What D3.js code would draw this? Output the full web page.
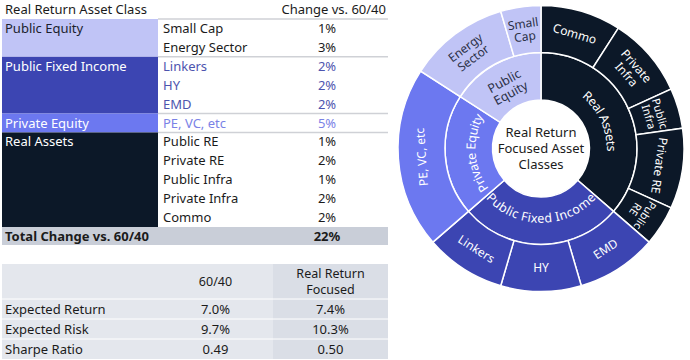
<!DOCTYPE html>
<html>
<head>
<meta charset="utf-8">
<script src="https://cdn.jsdelivr.net/npm/d3@7"></script>
<style>
  body { margin: 0; background: #fff; }
  svg { display: block; font-family: 'Noto Sans', sans-serif; }
</style>
</head>
<body>
<svg id="chart" width="690" height="360"></svg>
<script>
// Data
const assetGroups = ['Public Equity', 'Public Fixed Income', 'Private Equity', 'Real Assets']
const subClasses = ['Small Cap', 'Energy Sector', 'Linkers', 'HY', 'EMD', 'PE, VC, etc', 'Public RE', 'Private RE', 'Public Infra', 'Private Infra', 'Commo']
const subGroup = [0, 0, 1, 1, 1, 2, 3, 3, 3, 3, 3]
const changeLabels = ['1%', '3%', '2%', '2%', '2%', '5%', '1%', '2%', '1%', '2%', '2%']
const totalLabel = '22%'
// slice sizes measured from the sunburst angles (sum = 22)
const sunburstWeights = [1, 2.5, 2, 2, 2, 4.5, 1, 2, 1, 2, 2]
const ringLabels = ['Small\nCap', 'Energy\nSector', 'Linkers', 'HY', 'EMD', 'PE, VC, etc', 'Public\nRE', 'Private RE', 'Public\nInfra', 'Private\nInfra', 'Commo']
const groupRingLabels = ['Public\nEquity', 'Public Fixed Income', 'Private Equity', 'Real Assets']
const sunburstOrder = [3, 1, 2, 0]
const centerLabel = ['Real Return', 'Focused Asset', 'Classes']

const statNames = ['Expected Return', 'Expected Risk', 'Sharpe Ratio']
const portfolios = ['60/40', 'Real Return\nFocused']
const base6040 = ['7.0%', '9.7%', '0.49']
const realReturn = ['7.4%', '10.3%', '0.50']

const groupColors = ['#c0c4f6', '#3c45b2', '#6c78f0', '#0c1828']
const groupTextColors = ['#1b1f2e', '#ffffff', '#ffffff', '#ffffff']
const subTextColors = ['#1b1b1b', '#4d54ae', '#7a82e6', '#1b1b1b']
const ringTextColors = ['#2b3046', '#ffffff', '#ffffff', '#ffffff']

const svg = d3.select('#chart')

// ---------- Top table ----------
const tableLeft = 2
const tableRight = 388
const groupColRight = 158
const subX = 163
const valueX = 327
const fs = 13

const rowY = d3.scaleLinear().domain([0, subClasses.length]).range([19, 227])

svg.append('text')
  .attr('x', 5).attr('y', 14)
  .style('font-size', fs + 'px').attr('fill', '#1b1b1b')
  .text('Real Return Asset Class')
svg.append('text')
  .attr('x', 386).attr('y', 14)
  .attr('text-anchor', 'end')
  .style('font-size', fs + 'px').attr('fill', '#1b1b1b')
  .text('Change vs. 60/40')

const groupSpans = assetGroups.map((name, g) => {
  const idx = subGroup.map((s, i) => s === g ? i : -1).filter(i => i >= 0)
  return { name, g, first: idx[0], last: idx[idx.length - 1] }
})

svg.append('g').selectAll('rect')
  .data(groupSpans)
  .join('rect')
  .attr('x', tableLeft)
  .attr('y', d => rowY(d.first))
  .attr('width', groupColRight - tableLeft)
  .attr('height', d => rowY(d.last + 1) - rowY(d.first))
  .attr('fill', d => groupColors[d.g])

svg.append('g').selectAll('text')
  .data(groupSpans)
  .join('text')
  .attr('x', 5)
  .attr('y', d => rowY(d.first) + 14)
  .style('font-size', fs + 'px')
  .attr('fill', d => groupTextColors[d.g])
  .text(d => d.name)

// separators between groups
const sepRows = [0].concat(groupSpans.slice(0, -1).map(d => d.last + 1))
svg.append('g').selectAll('line')
  .data(sepRows)
  .join('line')
  .attr('x1', groupColRight).attr('x2', tableRight)
  .attr('y1', d => rowY(d)).attr('y2', d => rowY(d))
  .attr('stroke', '#cfd1d6').attr('stroke-width', 1.5)

svg.append('g').selectAll('text')
  .data(subClasses)
  .join('text')
  .attr('x', subX)
  .attr('y', (d, i) => rowY(i) + 14)
  .style('font-size', fs + 'px')
  .attr('fill', (d, i) => subTextColors[subGroup[i]])
  .text(d => d)

svg.append('g').selectAll('text')
  .data(changeLabels)
  .join('text')
  .attr('x', valueX)
  .attr('y', (d, i) => rowY(i) + 14)
  .attr('text-anchor', 'middle')
  .style('font-size', fs + 'px')
  .attr('fill', (d, i) => subTextColors[subGroup[i]])
  .text(d => d)

// total row
const totalTop = rowY(subClasses.length)
svg.append('rect')
  .attr('x', tableLeft).attr('y', totalTop)
  .attr('width', tableRight - tableLeft).attr('height', 18)
  .attr('fill', '#c9ced8')
svg.append('text')
  .attr('x', 5).attr('y', totalTop + 14)
  .style('font-size', fs + 'px').style('font-weight', 'bold').attr('fill', '#1b1b1b')
  .text('Total Change vs. 60/40')
svg.append('text')
  .attr('x', valueX).attr('y', totalTop + 14)
  .attr('text-anchor', 'middle')
  .style('font-size', fs + 'px').style('font-weight', 'bold').attr('fill', '#1b1b1b')
  .text(totalLabel)

// ---------- Bottom table ----------
const statTop = 264
const statHeaderH = 35
const statRowH = 20
const colEdges = [tableLeft, 158, 273, tableRight]
const colBg = ['#e4e7ed', '#e4e7ed', '#dadee6']
const statBottom = statTop + statHeaderH + statRowH * statNames.length

svg.append('g').selectAll('rect')
  .data(colBg)
  .join('rect')
  .attr('x', (d, i) => colEdges[i])
  .attr('y', statTop)
  .attr('width', (d, i) => colEdges[i + 1] - colEdges[i])
  .attr('height', statBottom - statTop)
  .attr('fill', d => d)

const statRowY = d3.scaleLinear().domain([0, statNames.length]).range([statTop + statHeaderH, statBottom])

svg.append('g').selectAll('line')
  .data(d3.range(statNames.length))
  .join('line')
  .attr('x1', tableLeft).attr('x2', tableRight)
  .attr('y1', d => statRowY(d)).attr('y2', d => statRowY(d))
  .attr('stroke', '#ffffff').attr('stroke-width', 1)

const colCenter = i => (colEdges[i] + colEdges[i + 1]) / 2
portfolios.forEach((p, i) => {
  const lines = p.split('\n')
  const t = svg.append('text')
    .attr('text-anchor', 'middle')
    .style('font-size', '12.5px').attr('fill', '#1b1b1b')
  lines.forEach((l, k) => {
    t.append('tspan')
      .attr('x', colCenter(i + 1))
      .attr('y', statTop + statHeaderH / 2 + 4.5 + (k - (lines.length - 1) / 2) * 15.5)
      .text(l)
  })
})

svg.append('g').selectAll('text')
  .data(statNames)
  .join('text')
  .attr('x', 5)
  .attr('y', (d, i) => statRowY(i) + 14.5)
  .style('font-size', fs + 'px').attr('fill', '#1b1b1b')
  .text(d => d)

;[base6040, realReturn].forEach((vals, c) => {
  svg.append('g').selectAll('text')
    .data(vals)
    .join('text')
    .attr('x', colCenter(c + 1))
    .attr('y', (d, i) => statRowY(i) + 14.5)
    .attr('text-anchor', 'middle')
    .style('font-size', fs + 'px').attr('fill', '#1b1b1b')
    .text(d => d)
})

// ---------- Sunburst ----------
const cx = 541
const cy = 148.5

const tree = {
  children: sunburstOrder.map(g => ({
    name: assetGroups[g],
    g,
    children: subClasses
      .map((name, i) => ({ name, i, g: subGroup[i], value: sunburstWeights[i] }))
      .filter(d => d.g === g)
      .reverse()
  }))
}

const root = d3.hierarchy(tree).sum(d => d.children ? 0 : d.value)
d3.partition().size([2 * Math.PI, 3])(root)

const radius = d3.scaleLinear().domain([1, 2, 3]).range([48.5, 96, 143])

const arc = d3.arc()
  .startAngle(d => d.x0)
  .endAngle(d => d.x1)
  .innerRadius(d => radius(d.y0))
  .outerRadius(d => radius(d.y1))

const sun = svg.append('g').attr('transform', `translate(${cx},${cy})`)
const nodes = root.descendants().filter(d => d.depth > 0)

sun.append('g').selectAll('path')
  .data(nodes)
  .join('path')
  .attr('d', arc)
  .attr('fill', d => groupColors[d.data.g])
  .attr('stroke', '#ffffff')
  .attr('stroke-width', 1.5)

const deg = a => a * 180 / Math.PI
const isFlipped = d => {
  const m = deg((d.x0 + d.x1) / 2)
  return m > 130 && m < 250
}

// rotated labels (outer ring + two-line inner label)
const rotatedLabel = (d, text, r, size, lineH) => {
  const a = (d.x0 + d.x1) / 2
  const m = deg(a)
  const rot = isFlipped(d) ? m - 180 : m
  const lines = text.split('\n')
  const t = sun.append('text')
    .attr('transform', `translate(${r * Math.sin(a)},${-r * Math.cos(a)}) rotate(${rot})`)
    .attr('text-anchor', 'middle')
    .style('font-size', size + 'px')
    .attr('fill', ringTextColors[d.data.g])
  lines.forEach((l, k) => {
    t.append('tspan')
      .attr('x', 0)
      .attr('y', (k - (lines.length - 1) / 2) * lineH)
      .attr('dy', '0.35em')
      .text(l)
  })
}

nodes.filter(d => d.depth === 2).forEach(d => {
  // the two thin slices on the right side need a tighter label
  const tight = (d.x1 - d.x0) < 0.3 && (d.x0 + d.x1) / 2 < Math.PI
  rotatedLabel(d, ringLabels[d.data.i], tight ? 118 : 119.5, tight ? 11 : 12, tight ? 11.5 : 13)
})

// inner ring: curved labels along the arc, multi-line ones rotated
const pathR = 70
nodes.filter(d => d.depth === 1).forEach((d, k) => {
  const label = groupRingLabels[d.data.g]
  if (label.includes('\n')) {
    rotatedLabel(d, label, pathR, 12.5, 13.5)
    return
  }
  const p = d3.path()
  if (isFlipped(d)) p.arc(0, 0, pathR, d.x1 - Math.PI / 2, d.x0 - Math.PI / 2, true)
  else p.arc(0, 0, pathR, d.x0 - Math.PI / 2, d.x1 - Math.PI / 2, false)
  const id = 'ring-path-' + k
  sun.append('path').attr('id', id).attr('d', p.toString()).attr('fill', 'none')
  sun.append('text')
    .style('font-size', '12.5px')
    .attr('fill', ringTextColors[d.data.g])
    .attr('dy', '0.35em')
    .append('textPath')
    .attr('href', '#' + id)
    .attr('startOffset', '50%')
    .attr('text-anchor', 'middle')
    .text(label)
})

// centre label
const centerText = sun.append('text')
  .attr('text-anchor', 'middle')
  .style('font-size', '13px')
  .attr('fill', '#1b1b1b')
centerLabel.forEach((l, k) => {
  centerText.append('tspan')
    .attr('x', 0)
    .attr('y', (k - 1) * 16 + 4.5)
    .text(l)
})
</script>
</body>
</html>
